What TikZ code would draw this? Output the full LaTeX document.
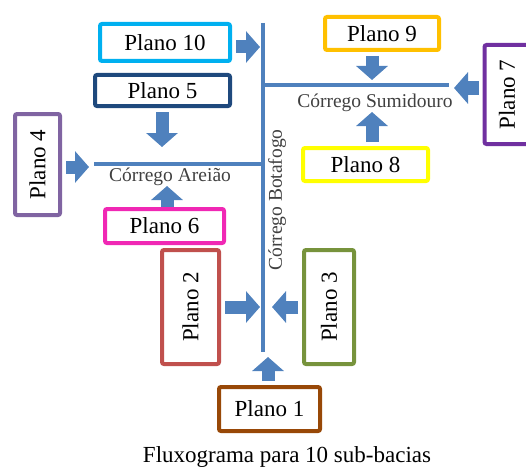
\documentclass[tikz,border=0pt]{standalone}
\usepackage{fontspec}
\setmainfont{Liberation Serif}
\usepackage{graphicx}
\usetikzlibrary{arrows.meta}
\definecolor{rioazul}{RGB}{79,129,189}
\definecolor{azulclaro}{RGB}{0,176,240}
\definecolor{azulescuro}{RGB}{31,73,125}
\definecolor{ouro}{RGB}{255,192,0}
\definecolor{roxo}{RGB}{112,48,160}
\definecolor{lilas}{RGB}{128,100,162}
\definecolor{amarelo}{RGB}{255,255,0}
\definecolor{magenta}{RGB}{240,40,180}
\definecolor{vermelho}{RGB}{192,80,77}
\definecolor{verde}{RGB}{119,147,60}
\definecolor{marrom}{RGB}{152,72,7}

\begin{document}
\begin{tikzpicture}[x=1pt,y=-1pt,
  plano/.style={draw=#1,line width=4pt,rounded corners=2pt,inner sep=0pt,
    font=\fontsize{23}{26}\selectfont},
  rio/.style={draw=rioazul,line width=3.5pt},
  nome/.style={text=black!75,inner sep=0pt,font=\fontsize{19.5}{21}\selectfont},
  flow/.style={draw=rioazul,line width=13pt,shorten <=4pt,
    -{Triangle[width=31pt,length=14pt]}}]
  \useasboundingbox (0,0) rectangle (526,468);
  \clip (0,0) rectangle (526,468);

  % corregos
  \coordinate (b1) at (263,23);
  \coordinate (b2) at (263,352);
  \coordinate (a1) at (94,164);
  \coordinate (a2) at (263,164);
  \coordinate (s1) at (263,85);
  \coordinate (s2) at (449,85);
  \draw[rio] (b1)--(b2);
  \draw[rio] (a1)--(a2);
  \draw[rio] (s1)--(s2);
  \node[nome] (areiao) at (170,177) {Córrego Areião};
  \node[nome] (sumidouro) at (375,103) {Córrego Sumidouro};
  \node[nome,rotate=90] (botafogo) at (277,200) {Córrego Botafogo};

  % sub-bacias
  \node[plano=azulclaro,minimum width=130pt,minimum height=37pt] (p10) at (165,42.5) {Plano 10};
  \node[plano=azulescuro,minimum width=135pt,minimum height=31pt] (p5) at (162.5,90.5) {Plano 5};
  \node[plano=ouro,minimum width=114pt,minimum height=33pt] (p9) at (382,33.5) {Plano 9};
  \node[plano=roxo,minimum width=45pt,minimum height=99pt] (p7) at (507,94.5) {\rotatebox{90}{Plano 7}};
  \node[plano=lilas,minimum width=45pt,minimum height=101pt] (p4) at (37.5,164.5) {\rotatebox{90}{Plano 4}};
  \node[plano=amarelo,minimum width=125pt,minimum height=33pt] (p8) at (365.5,164.5) {Plano 8};
  \node[plano=magenta,minimum width=119pt,minimum height=34pt] (p6) at (164.5,226) {Plano 6};
  \node[plano=vermelho,minimum width=57pt,minimum height=114pt] (p2) at (190.5,307) {\rotatebox{90}{Plano 2}};
  \node[plano=verde,minimum width=50pt,minimum height=114pt] (p3) at (329,307) {\rotatebox{90}{Plano 3}};
  \node[plano=marrom,minimum width=101pt,minimum height=44pt] (p1) at (269.5,409) {Plano 1};

  % setas
  \coordinate (t10) at (260,47);
  \coordinate (t5) at (162,147);
  \coordinate (t4) at (89,167);
  \coordinate (t6) at (167,186);
  \coordinate (t9) at (372,80);
  \coordinate (t7) at (454,88);
  \coordinate (t8) at (372,112);
  \coordinate (t2) at (260,307);
  \coordinate (t3) at (272,307);
  \coordinate (t1) at (268,357);
  \draw[flow] (t10 -| p10.east) -- (t10);
  \draw[flow] (t5 |- p5.south) -- (t5);
  \draw[flow] (t4 -| p4.east) -- (t4);
  \draw[flow,shorten <=0pt] (t6 |- p6.north) -- (t6);
  \draw[flow] (t9 |- p9.south) -- (t9);
  \draw[flow] (t7 -| p7.west) -- (t7);
  \draw[flow] (t8 |- p8.north) -- (t8);
  \draw[flow] (t2 -| p2.east) -- (t2);
  \draw[flow] (t3 -| p3.west) -- (t3);
  \draw[flow] (t1 |- p1.north) -- (t1);

  \node[font=\fontsize{23}{26}\selectfont] (titulo) at (287,457) {Fluxograma para 10 sub-bacias};
\end{tikzpicture}
\end{document}
